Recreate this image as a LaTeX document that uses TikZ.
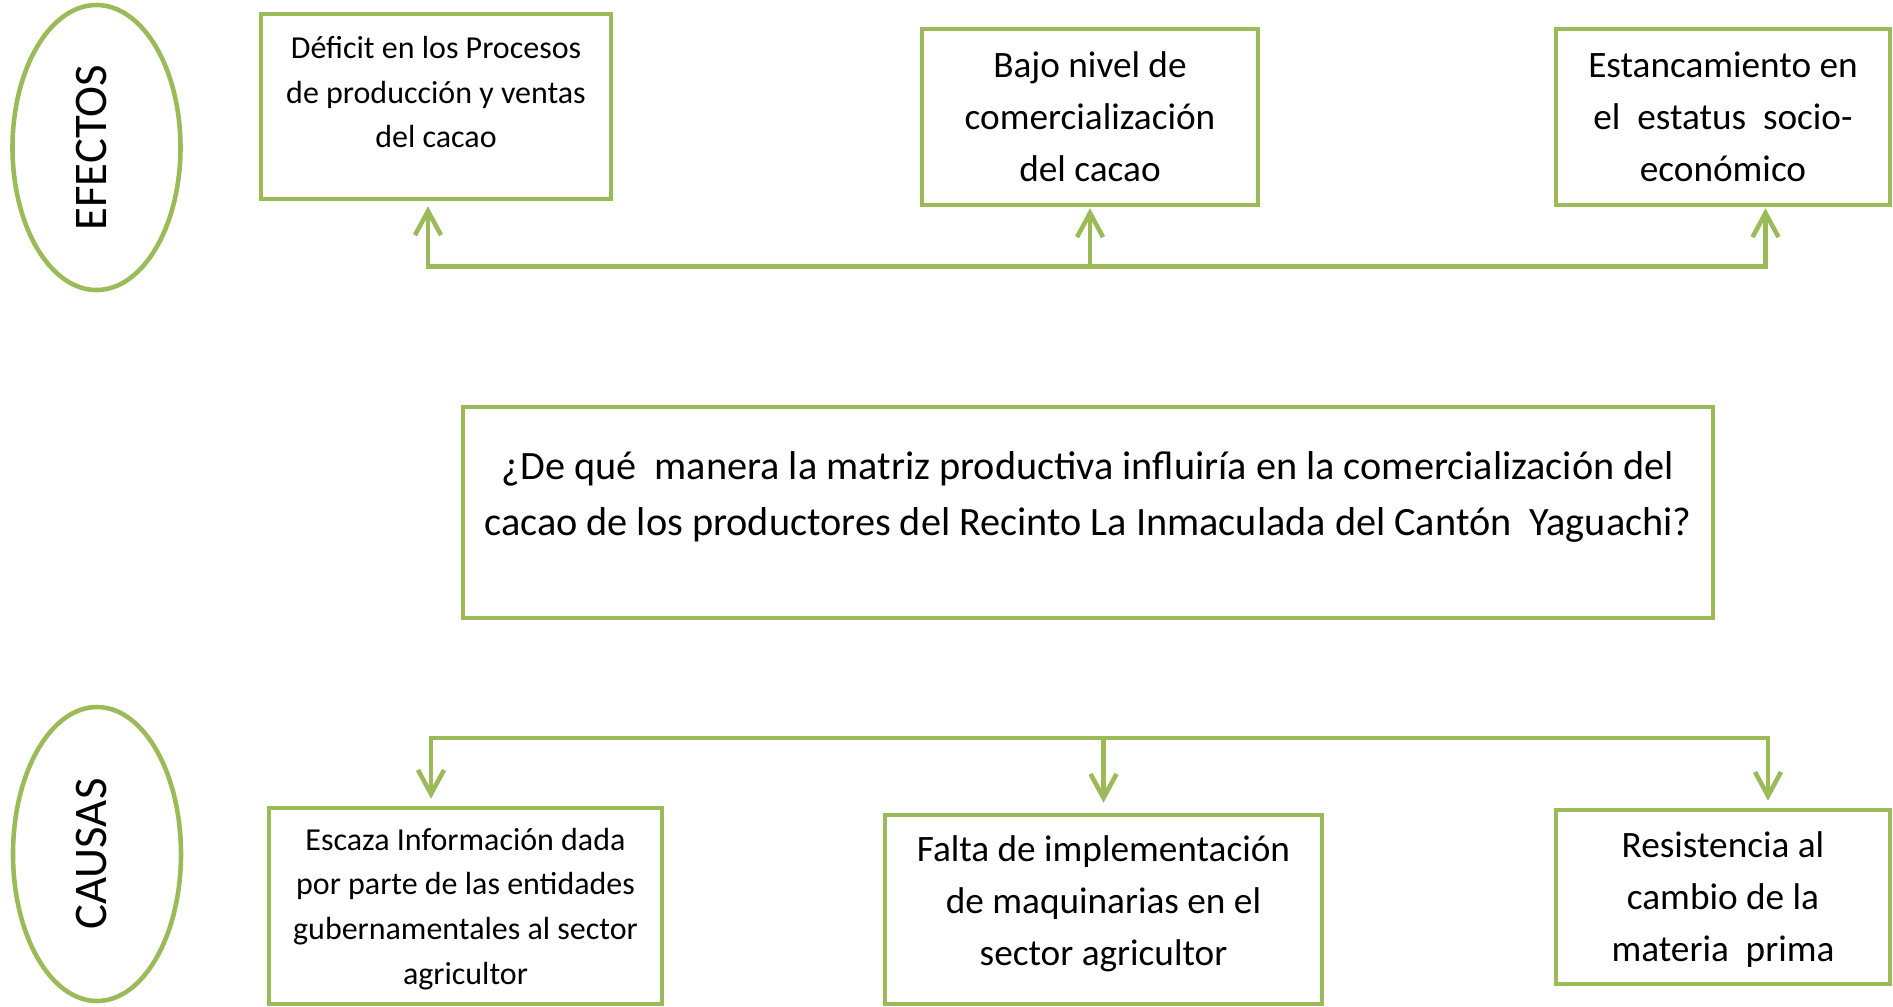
\documentclass[tikz,border=0pt]{standalone}
\usepackage{fontspec}
\setmainfont{Carlito}
\usepackage{tikz}
\usetikzlibrary{arrows.meta, shapes.geometric, positioning}
\definecolor{verde}{HTML}{9BBB59}
\tikzset{>={Straight Barb[length=2.4mm,width=2.6mm]}}

\begin{document}
\begin{tikzpicture}[line width=1.3pt,
    caja/.style={draw=verde, rectangle, align=center, inner sep=2pt},
    chica/.style={font=\fontsize{9.1}{12.7}\selectfont},
    grande/.style={font=\fontsize{10.6}{14.8}\selectfont},
    ovalo/.style={draw=verde, ellipse, inner sep=0pt, rotate=90, text depth=0.11cm,
        minimum width=2.85cm, minimum height=1.68cm, font=\fontsize{13.3}{16}\selectfont},
    flecha/.style={draw=verde, ->}]
        \useasboundingbox (0,0) rectangle (18.93,-10.06);

        \node (efectos) at (0.965,-1.475) [ovalo] {EFECTOS};
        \node (causas) at (0.97,-8.54) [ovalo, minimum width=2.94cm] {CAUSAS};

        \node (def) at (4.36,-1.065) [caja, chica, minimum width=3.5cm, minimum height=1.85cm, text depth=0.29cm]
            {Déficit en los Procesos\\ de producción y ventas\\ del cacao};
        \node (bajo) at (10.90,-1.17) [caja, grande, minimum width=3.36cm, minimum height=1.76cm]
            {Bajo nivel de\\ comercialización\\ del cacao};
        \node (estanc) at (17.23,-1.17) [caja, grande, minimum width=3.34cm, minimum height=1.76cm]
            {Estancamiento en\\ el~ estatus~ socio-\\ económico};

        \node (preg) at (10.88,-5.125) [caja, font=\fontsize{11.45}{16.2}\selectfont,
            minimum width=12.5cm, minimum height=2.11cm, text depth=0.38cm]
            {¿De qué~ manera la matriz productiva influiría en la comercialización del\\
             cacao de los productores del Recinto La Inmaculada del Cantón~ Yaguachi?};

        \node (escaza) at (4.655,-9.06) [caja, chica, minimum width=3.93cm, minimum height=1.96cm, text depth=0cm]
            {Escaza Información dada\\ por parte de las entidades\\ gubernamentales al sector\\ agricultor};
        \node (falta) at (11.035,-9.095) [caja, grande, minimum width=4.37cm, minimum height=1.89cm, text depth=0.175cm]
            {Falta de implementación\\ de maquinarias en el\\ sector agricultor};
        \node (resist) at (17.23,-8.97) [caja, grande, minimum width=3.34cm, minimum height=1.74cm, text depth=0cm]
            {Resistencia al\\ cambio de la\\ materia~ prima};

        \coordinate (tl) at (4.28,-2.665);
        \coordinate (tr) at (17.655,-2.665);
        \draw [flecha, <->, shorten <=0.05cm, shorten >=0.01cm] (tl |- def.south) -- (tl) -- (tr) -- (tr |- estanc.south);
        \draw [flecha, shorten >=0.01cm] (bajo.south |- tl) -- (bajo.south);

        \coordinate (bl) at (4.31,-7.38);
        \coordinate (br) at (17.68,-7.38);
        \draw [flecha, <->, shorten <=0.07cm, shorten >=0.07cm] (bl |- escaza.north) -- (bl) -- (br) -- (br |- resist.north);
        \draw [flecha, shorten >=0.1cm] (falta.north |- bl) -- (falta.north);
\end{tikzpicture}
\end{document}
